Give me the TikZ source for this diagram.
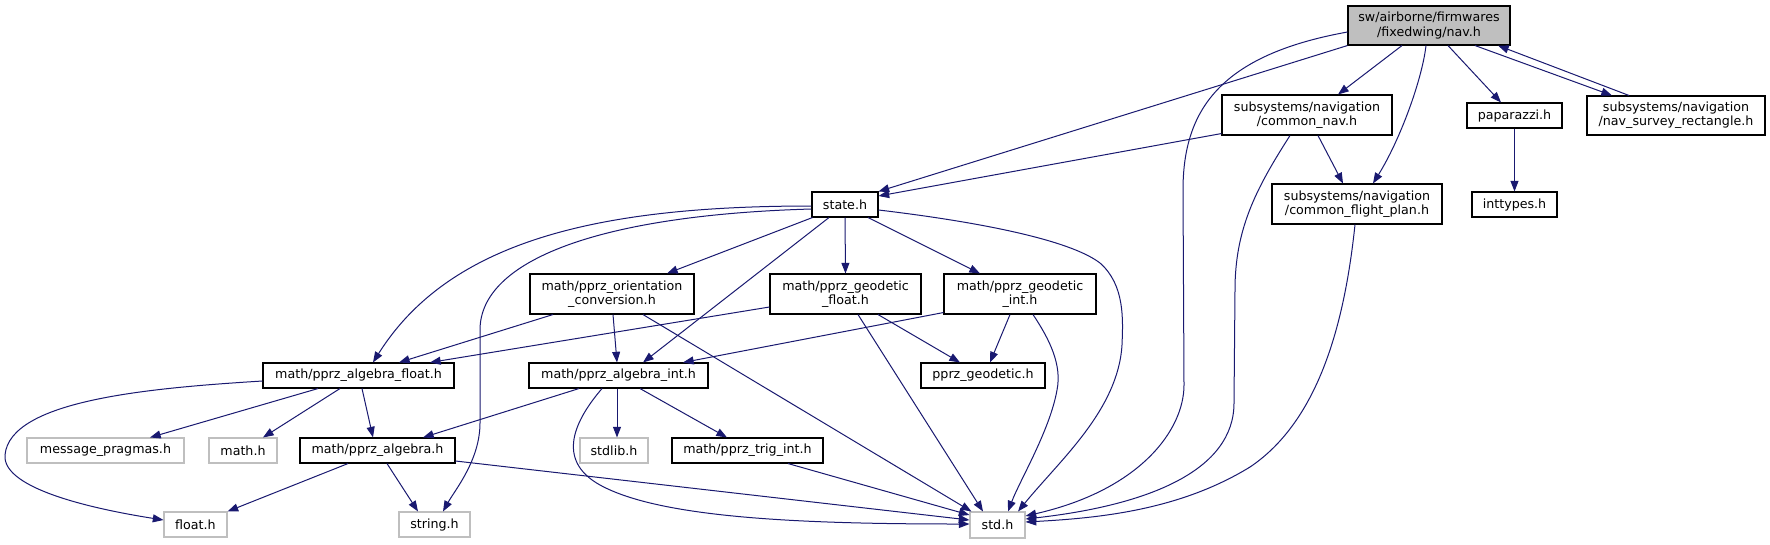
\documentclass[tikz,border=0pt]{standalone}
\usepackage{fontspec}
\setmainfont{DejaVu Sans}
\usetikzlibrary{arrows.meta,calc}
\definecolor{edgec}{HTML}{191970}
\definecolor{extc}{HTML}{BFBFBF}
\newcommand\bx[7]{\node[#6, minimum width={(#4-#2)*0.75pt}, minimum height={(#5-#3)*0.75pt}] (#1) at ({(#2+#4)/2},{(#3+#5)/2}) {#7};}
\begin{document}
\begin{tikzpicture}[x=0.75pt,y=-0.75pt,
  nd/.style={draw=black, line width=0.8pt, fill=white, inner sep=0pt, align=center, font=\fontsize{9.5}{10.7}\selectfont},
  ext/.style={nd, draw=extc},
  cur/.style={nd, fill=extc},
  ed/.style={draw=edgec, line width=0.75pt, -{Triangle[length=8pt,width=6pt]}}
]
\useasboundingbox[fill=white] (0,0) rectangle (1770,544);
\bx{nav}{1348}{6}{1510}{45}{cur}{sw/airborne/firmwares\\/fixedwing/nav.h}
\bx{cnav}{1222}{95}{1392}{135}{nd}{subsystems/navigation\\/common\_nav.h}
\bx{pap}{1467}{103}{1562}{128}{nd}{paparazzi.h}
\bx{nsr}{1587}{96}{1765}{135}{nd}{subsystems/navigation\\/nav\_survey\_rectangle.h}
\bx{state}{812}{192}{878}{217}{nd}{state.h}
\bx{cfp}{1272}{184}{1442}{224}{nd}{subsystems/navigation\\/common\_flight\_plan.h}
\bx{intt}{1472}{192}{1557}{217}{nd}{inttypes.h}
\bx{orient}{530}{274}{694}{314}{nd}{math/pprz\_orientation\\\_conversion.h}
\bx{gfloat}{770}{274}{921}{314}{nd}{math/pprz\_geodetic\\\_float.h}
\bx{gint}{944}{274}{1096}{314}{nd}{math/pprz\_geodetic\\\_int.h}
\bx{afloat}{263}{363}{454}{388}{nd}{math/pprz\_algebra\_float.h}
\bx{aint}{529}{363}{708}{388}{nd}{math/pprz\_algebra\_int.h}
\bx{pgeo}{921}{363}{1045}{388}{nd}{pprz\_geodetic.h}
\bx{msg}{27}{438}{184}{463}{ext}{message\_pragmas.h}
\bx{mathh}{209}{438}{277}{463}{ext}{math.h}
\bx{alg}{300}{438}{455}{463}{nd}{math/pprz\_algebra.h}
\bx{stdlib}{580}{438}{648}{463}{ext}{stdlib.h}
\bx{trig}{672}{438}{823}{463}{nd}{math/pprz\_trig\_int.h}
\bx{floath}{164}{512}{227}{537}{ext}{float.h}
\bx{string}{399}{512}{470}{537}{ext}{string.h}
\bx{std}{970}{512}{1025}{538}{ext}{std.h}
% top
\draw[ed] ($(nav.south)+(-27,0)$) -- ($(cnav.north)+(31,0)$);
\draw[ed] ($(nav.south)+(19,0)$) -- ($(pap.north)+(-13.5,0)$);
\draw[ed] ($(nav.south)+(46,0)$) -- ($(nsr.north)+(-64,0)$);
\draw[ed] ($(nsr.north)+(-47,0)$) -- ($(nav.south)+(69,0)$);
\draw[ed] ($(nav.south)+(-3,0)$) .. controls (1422,80) and (1400,140) .. ($(cfp.north)+(16,0)$);
\draw[ed] (nav.south west) -- (state.north east);
\draw[ed] ($(cnav.south west)+(0,-2)$) -- ($(state.east)+(0,-8.5)$);
\draw[ed] ($(cnav.south)+(11,0)$) -- ($(cfp.north)+(-14,0)$);
\draw[ed] (pap.south) -- (intt.north);
% long curves into std.h
\draw[ed] ($(nav.west)+(0,6.5)$) .. controls (1220,55) and (1183,110) .. (1183,190) -- (1184,385) .. controls (1184,430) and (1140,490) .. ($(std.east)+(0,-9)$);
\draw[ed] ($(cnav.south)+(-17,0)$) .. controls (1255,190) and (1235,230) .. (1235,290) -- (1234,403) .. controls (1234,470) and (1150,505) .. ($(std.east)+(0,-6)$);
\draw[ed] ($(cfp.south)+(-2,0)$) .. controls (1345,320) and (1320,420) .. (1250,467) .. controls (1180,510) and (1100,518) .. ($(std.east)+(0,-3)$);
\draw[ed] ($(state.east)+(0,5.5)$) .. controls (980,222) and (1070,240) .. (1100,263) .. controls (1125,285) and (1123,320) .. (1122,345) .. controls (1118,410) and (1060,460) .. ($(std.north)+(20.5,0)$);
\draw[ed] ($(gint.south)+(13,0)$) .. controls (1050,340) and (1062,365) .. (1057,390) .. controls (1050,430) and (1020,480) .. ($(std.north)+(10.5,0)$);
\draw[ed] ($(gfloat.south)+(12.5,0)$) -- ($(std.north)+(-14.5,0)$);
\draw[ed] ($(orient.south)+(31,0)$) -- ($(std.north west)+(2,0)$);
\draw[ed] ($(aint.south)+(-16.5,0)$) .. controls (575,420) and (555,460) .. (600,485) .. controls (660,518) and (800,524) .. ($(std.west)+(0,-1)$);
\draw[ed] ($(alg.east)+(0,10.5)$) -- ($(std.west)+(0,-5)$);
\draw[ed] ($(trig.south)+(40.5,0)$) -- ($(std.west)+(0,-10)$);
% state.h
\draw[ed] ($(state.south west)+(1,0)$) -- ($(orient.north)+(55,0)$);
\draw[ed] ($(state.south)+(-16,0)$) -- ($(aint.north)+(24.5,0)$);
\draw[ed] (state.south) -- (gfloat.north);
\draw[ed] ($(state.south)+(23,0)$) -- ($(gint.north)+(-40,0)$);
\draw[ed] ($(state.west)+(0,1.5)$) .. controls (600,206) and (450,240) .. ($(afloat.north)+(14.5,0)$);
\draw[ed] ($(state.west)+(0,4.5)$) .. controls (600,215) and (480,260) .. (480,330) -- (480,423) .. controls (480,460) and (455,490) .. ($(string.north)+(8.5,0)$);
% middle row
\draw[ed] ($(orient.south)+(-59,0)$) -- ($(afloat.north)+(40.5,0)$);
\draw[ed] ($(orient.south)+(1,0)$) -- ($(aint.north)+(-1.5,0)$);
\draw[ed] ($(gfloat.west)+(0,13)$) -- ($(afloat.north)+(71.5,0)$);
\draw[ed] ($(gfloat.south)+(32.5,0)$) -- ($(pgeo.north)+(-23,0)$);
\draw[ed] ($(gint.south west)+(0,-2)$) -- ($(aint.north)+(64.5,0)$);
\draw[ed] ($(gint.south)+(-10,0)$) -- ($(pgeo.north)+(7,0)$);
% algebra
\draw[ed] ($(afloat.west)+(0,5.5)$) .. controls (150,388) and (10,400) .. (5,455) .. controls (2,490) and (100,510) .. ($(floath.west)+(0,-4.5)$);
\draw[ed] ($(afloat.south)+(-40.5,0)$) -- ($(msg.north)+(44.5,0)$);
\draw[ed] ($(afloat.south)+(-18.5,0)$) -- ($(mathh.north)+(20,0)$);
\draw[ed] ($(afloat.south)+(3.5,0)$) -- ($(alg.north)+(-4.5,0)$);
\draw[ed] ($(aint.south)+(-39.5,0)$) -- ($(alg.north)+(45.5,0)$);
\draw[ed] ($(aint.south)+(-1.5,0)$) -- ($(stdlib.north)+(3,0)$);
\draw[ed] ($(aint.south)+(21.5,0)$) -- ($(trig.north)+(-20.5,0)$);
\draw[ed] ($(alg.south)+(-29.5,0)$) -- (floath.north east);
\draw[ed] ($(alg.south)+(9.5,0)$) -- ($(string.north)+(-16.5,0)$);
\end{tikzpicture}
\end{document}
